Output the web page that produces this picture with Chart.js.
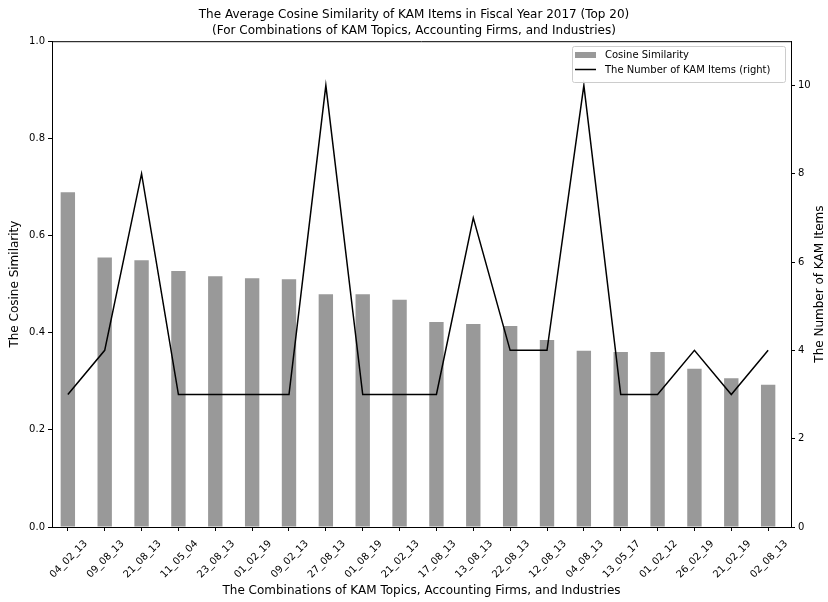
<!DOCTYPE html>
<html>
<head>
<meta charset="utf-8">
<script src="https://cdn.jsdelivr.net/npm/chart.js@4.4.1/dist/chart.umd.min.js"></script>
<style>
  html, body { margin: 0; padding: 0; background: #fff; }
  #wrap { width: 828px; height: 602px; }
</style>
</head>
<body>
<div id="wrap"><canvas id="c" width="828" height="602"></canvas></div>
<script>
const categories = ["04_02_13","09_08_13","21_08_13","11_05_04","23_08_13","01_02_19","09_02_13","27_08_13","01_08_19","21_02_13","17_08_13","13_08_13","22_08_13","12_08_13","04_08_13","13_05_17","01_02_12","26_02_19","21_02_19","02_08_13"];
const cosineSimilarity = [0.689,0.555,0.549,0.527,0.516,0.512,0.510,0.479,0.479,0.468,0.422,0.418,0.414,0.385,0.363,0.360,0.360,0.326,0.306,0.293];
const kamItemCounts = [3,4,8,3,3,3,3,10,3,3,3,7,4,4,10,3,3,4,3,4];
const leftTicks = [0,0.2,0.4,0.6,0.8,1.0];
const rightTicks = [0,2,4,6,8,10];

const FONT = "'DejaVu Sans', sans-serif";

const extras = {
  id: 'extras',
  afterDraw(chart) {
    const ctx = chart.ctx;
    const a = chart.chartArea;
    ctx.save();
    // top spine
    ctx.strokeStyle = '#000';
    ctx.lineWidth = 1;
    ctx.beginPath();
    ctx.moveTo(a.left, a.top + 0.5);
    ctx.lineTo(a.right, a.top + 0.5);
    ctx.stroke();
    // right axis title
    ctx.fillStyle = '#000';
    ctx.font = '12px ' + FONT;
    ctx.textAlign = 'center';
    ctx.textBaseline = 'middle';
    ctx.translate(820, (a.top + a.bottom) / 2);
    ctx.rotate(-Math.PI / 2);
    ctx.fillText('The Number of KAM Items', 0, 0);
    ctx.restore();

    // legend
    ctx.save();
    const lx = 572, ly = 46, lw = 213, lh = 36;
    ctx.fillStyle = 'rgba(255,255,255,0.8)';
    ctx.strokeStyle = '#cccccc';
    ctx.lineWidth = 1;
    ctx.beginPath();
    if (ctx.roundRect) ctx.roundRect(lx + 0.5, ly + 0.5, lw, lh, 2); else ctx.rect(lx + 0.5, ly + 0.5, lw, lh);
    ctx.fill();
    ctx.stroke();
    ctx.fillStyle = '#999999';
    ctx.fillRect(575, 52, 21, 6);
    ctx.strokeStyle = '#000';
    ctx.lineWidth = 1.5;
    ctx.beginPath();
    ctx.moveTo(575, 69.5);
    ctx.lineTo(596, 69.5);
    ctx.stroke();
    ctx.fillStyle = '#000';
    ctx.font = '10px ' + FONT;
    ctx.textAlign = 'left';
    ctx.textBaseline = 'middle';
    ctx.fillText('Cosine Similarity', 605, 55.5);
    ctx.fillText('The Number of KAM Items (right)', 605, 70);
    ctx.restore();
  }
};

new Chart(document.getElementById('c'), {
  data: {
    datasets: [
      {
        type: 'line',
        label: 'The Number of KAM Items (right)',
        data: kamItemCounts.map((v, i) => ({ x: i, y: v })),
        yAxisID: 'y1',
        borderColor: '#000',
        borderWidth: 1.5,
        pointRadius: 0,
        tension: 0,
        order: 0
      },
      {
        type: 'bar',
        label: 'Cosine Similarity',
        data: cosineSimilarity.map((v, i) => ({ x: i, y: v })),
        yAxisID: 'y',
        backgroundColor: '#999999',
        barPercentage: 0.39,
        categoryPercentage: 1,
        order: 1
      }
    ]
  },
  options: {
    responsive: false,
    animation: false,
    layout: { padding: 0 },
    plugins: {
      legend: { display: false },
      tooltip: { enabled: false },
      title: {
        display: true,
        text: ['The Average Cosine Similarity of KAM Items in Fiscal Year 2017 (Top 20)', '(For Combinations of KAM Topics, Accounting Firms, and Industries)'],
        color: '#000',
        font: { family: FONT, size: 12, weight: 'normal', lineHeight: 1.3 },
        padding: { top: 7, bottom: 3 }
      }
    },
    scales: {
      x: {
        type: 'linear',
        min: -0.43,
        max: 19.62,
        offset: false,
        afterBuildTicks: s => { s.ticks = categories.map((c, i) => ({ value: i })); },
        afterFit: s => { s.height = 75; },
        ticks: {
          autoSkip: false,
          maxRotation: 45,
          minRotation: 45,
          labelOffset: 18,
          padding: 7,
          color: '#000',
          font: { family: FONT, size: 10 },
          callback: v => categories[v]
        },
        grid: { drawOnChartArea: false, drawTicks: true, tickLength: 4, color: '#000', offset: false },
        border: { display: true, color: '#000' },
        title: {
          display: true,
          text: 'The Combinations of KAM Topics, Accounting Firms, and Industries',
          color: '#000',
          font: { family: FONT, size: 12 },
          padding: { top: 4, bottom: 4 }
        }
      },
      y: {
        type: 'linear',
        position: 'left',
        min: 0,
        max: 1,
        afterBuildTicks: s => { s.ticks = leftTicks.map(v => ({ value: v })); },
        afterFit: s => { s.width = 52; },
        ticks: {
          color: '#000',
          font: { family: FONT, size: 10 },
          padding: 3,
          callback: v => Number(v).toFixed(1)
        },
        grid: { drawOnChartArea: false, drawTicks: true, tickLength: 4, color: '#000' },
        border: { display: true, color: '#000' },
        title: {
          display: true,
          text: 'The Cosine Similarity',
          color: '#000',
          font: { family: FONT, size: 12 },
          padding: { top: 8, bottom: 4 }
        }
      },
      y1: {
        type: 'linear',
        position: 'right',
        min: 0,
        max: 11,
        afterBuildTicks: s => { s.ticks = rightTicks.map(v => ({ value: v })); },
        afterFit: s => { s.width = 37; },
        ticks: {
          color: '#000',
          font: { family: FONT, size: 10 },
          padding: 3
        },
        grid: { drawOnChartArea: false, drawTicks: true, tickLength: 4, color: '#000' },
        border: { display: true, color: '#000' }
      }
    }
  },
  plugins: [extras]
});
</script>
</body>
</html>
